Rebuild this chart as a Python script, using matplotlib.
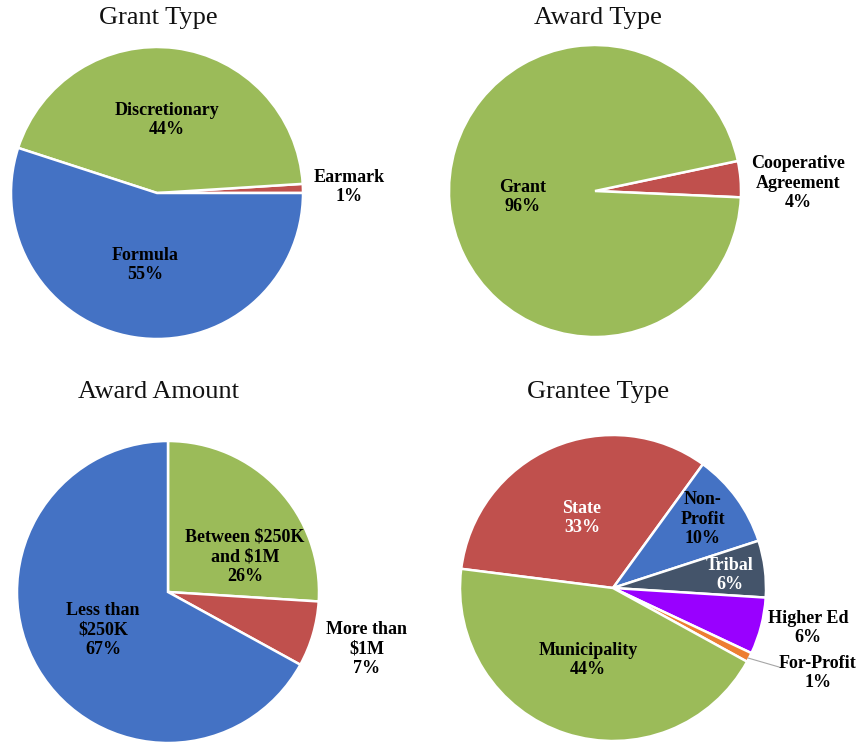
import matplotlib
matplotlib.use("Agg")
import matplotlib.pyplot as plt

plt.rcParams['font.family'] = ['Liberation Serif', 'DejaVu Serif']

# ---- data ----
grant_labels = ["Earmark", "Discretionary", "Formula"]
grant_values = [1, 44, 55]
grant_colors = ["#C0504D", "#9BBB59", "#4472C4"]

award_labels = ["Cooperative\nAgreement", "Grant"]
award_values = [4, 96]
award_colors = ["#C0504D", "#9BBB59"]

amount_labels = ["Between $250K\nand $1M", "More than\n$1M", "Less than\n$250K"]
amount_values = [26, 7, 67]
amount_colors = ["#9BBB59", "#C0504D", "#4472C4"]

grantee_labels = ["State", "Non-\nProfit", "Tribal", "Higher Ed", "For-Profit", "Municipality"]
grantee_values = [33, 10, 6, 6, 1, 44]
grantee_colors = ["#C0504D", "#4472C4", "#44546A", "#9900FF", "#ED7D31", "#9BBB59"]

W, H = 861, 745
fig = plt.figure(figsize=(W / 100, H / 100), dpi=100)
ax = fig.add_axes([0, 0, 1, 1])
ax.set_xlim(0, W)
ax.set_ylim(0, H)
ax.set_aspect('equal')
ax.axis('off')

def Y(y):
    return H - y

wp = dict(edgecolor='white', linewidth=1.8)

def pie(values, colors, cx, cy, r, start, ccw):
    ax.pie(values, colors=colors, center=(cx, Y(cy)), radius=r,
           startangle=start, counterclock=ccw, wedgeprops=wp, frame=True)

def lab(text, pct, x, y, color='black', size=13):
    ax.text(x, Y(y), f"{text}\n{pct}%", ha='center', va='center',
            fontsize=size, fontweight='bold', color=color, linespacing=1.22)

def title(t, x, y):
    ax.text(x, Y(y), t, ha='center', va='center', fontsize=19, color='#111111')

# Grant Type
title("Grant Type", 158, 18)
pie(grant_values, grant_colors, 157, 193, 146, 0, True)
lab(grant_labels[0], grant_values[0], 349, 187)
lab(grant_labels[1], grant_values[1], 167, 120)
lab(grant_labels[2], grant_values[2], 145, 265)

# Award Type
title("Award Type", 598, 18)
pie(award_values, award_colors, 595, 191, 146, -2.5, True)
lab(award_labels[0], award_values[0], 798, 183)
lab(award_labels[1], award_values[1], 523, 197)

# Award Amount
title("Award Amount", 159, 392)
pie(amount_values, amount_colors, 168, 592, 151, 90, False)
lab(amount_labels[0], amount_values[0], 245, 557)
lab(amount_labels[1], amount_values[1], 367, 649)
lab(amount_labels[2], amount_values[2], 103, 630)

# Grantee Type
title("Grantee Type", 598, 392)
pie(grantee_values, grantee_colors, 613, 588, 153, 172.8, False)
lab(grantee_labels[0], grantee_values[0], 582, 518, color='white')
lab(grantee_labels[1], grantee_values[1], 703, 519)
lab(grantee_labels[2], grantee_values[2], 730, 575, color='white')
lab(grantee_labels[3], grantee_values[3], 808, 628)
lab(grantee_labels[4], grantee_values[4], 818, 673)
lab(grantee_labels[5], grantee_values[5], 588, 660)
ax.plot([748, 779], [Y(658), Y(667)], color='#A6A6A6', linewidth=0.8)

ax.set_xlim(0, W)
ax.set_ylim(0, H)
ax.axis('off')

fig.savefig("out.png", dpi=100)
